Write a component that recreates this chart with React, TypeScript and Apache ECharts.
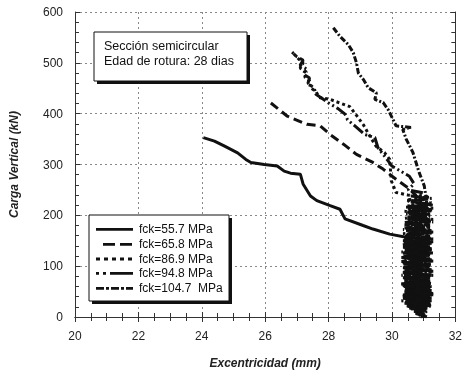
import React, { useEffect, useRef } from "react";
import * as echarts from "echarts";

const seriesNames = ["fck=55.7 MPa", "fck=65.8 MPa", "fck=86.9 MPa", "fck=94.8 MPa", "fck=104.7  MPa"];
const xTicks = { min: 20, max: 32, interval: 2 };
const yTicks = { min: 0, max: 600, interval: 100 };

const s557: number[][] = [
  [24.05, 353], [24.4, 346], [24.72, 336], [25.13, 323], [25.39, 310], [25.55, 304], [25.97, 300], [26.38, 297],
  [26.6, 287], [26.8, 283], [27.11, 281], [27.2, 261], [27.43, 238], [27.63, 229], [28.05, 219], [28.36, 212],
  [28.52, 193], [29.09, 180], [29.4, 173], [29.93, 163], [30.45, 157],
  [31.2, 152], [30.4, 147], [31.15, 142], [30.35, 137], [31.25, 132], [30.4, 127], [31.2, 122], [30.3, 117],
  [31.25, 112], [30.45, 107], [31.1, 102], [30.35, 97], [31.2, 92], [30.4, 87], [31.25, 82], [30.35, 77],
  [31.15, 72], [30.4, 67], [31.2, 62], [30.45, 57], [31.25, 52], [30.4, 47], [31.2, 42], [30.35, 37],
  [31.25, 32], [30.45, 27], [31.1, 22], [30.6, 17], [31.0, 12], [30.75, 7], [31.05, 2], [30.9, 0],
];

const s658: number[][] = [
  [26.18, 421], [26.7, 395], [27.32, 379], [27.74, 376], [28.05, 359], [28.47, 340], [28.88, 320], [29.4, 304],
  [29.72, 291], [30.13, 271], [30.55, 252], [30.86, 232],
  [30.6, 226], [31.2, 222], [30.5, 217], [31.25, 212], [30.45, 207], [31.15, 202], [30.5, 196], [31.25, 191],
  [30.4, 186], [31.2, 180], [30.45, 175], [31.25, 170], [30.5, 164], [31.2, 159], [30.4, 153], [31.3, 148],
  [30.45, 143], [31.2, 137], [30.35, 131], [31.25, 126], [30.4, 120], [31.15, 114], [30.3, 109], [31.2, 104],
  [30.4, 98], [31.25, 93], [30.35, 88], [31.2, 82], [30.45, 76], [31.2, 71], [30.3, 65], [31.25, 60],
  [30.4, 54], [31.15, 49], [30.35, 43], [31.2, 38], [30.45, 32], [31.25, 27], [30.5, 21], [31.1, 16],
  [30.7, 10], [31.0, 5],
];

const s869: number[][] = [
  [26.9, 518], [27.05, 508], [27.2, 500], [27.1, 490], [27.3, 482], [27.25, 472], [27.45, 462], [27.4, 452],
  [27.6, 444], [27.7, 432], [28.05, 428], [28.4, 420], [28.67, 414], [28.9, 395], [29.1, 378], [29.3, 356],
  [29.5, 336], [29.77, 323], [29.93, 310], [29.98, 268], [30.13, 245],
  [30.5, 240], [31.2, 236], [30.45, 230], [31.25, 225], [30.5, 219], [31.3, 214], [30.4, 208], [31.2, 203],
  [30.5, 197], [31.3, 192], [30.45, 186], [31.2, 181], [30.4, 175], [31.25, 170], [30.35, 164], [31.2, 159],
  [30.4, 153], [31.25, 148], [30.3, 142], [31.2, 137], [30.4, 131], [31.3, 126], [30.35, 120], [31.2, 115],
  [30.3, 109], [31.25, 104], [30.4, 98], [31.2, 93], [30.35, 87], [31.3, 82], [30.4, 76], [31.2, 71],
  [30.3, 65], [31.25, 60], [30.4, 54], [31.2, 49], [30.35, 43], [31.25, 38], [30.3, 32], [31.2, 27],
  [30.45, 22], [31.15, 17], [30.7, 11], [31.05, 6], [30.85, 1],
];

const s948: number[][] = [
  [26.85, 521], [27.0, 512], [27.2, 505], [27.1, 495], [27.3, 488], [27.2, 478], [27.4, 470], [27.35, 460],
  [27.55, 450], [27.6, 438], [27.8, 430], [28.0, 421], [28.3, 410], [28.52, 399], [28.6, 388], [28.83, 376],
  [29.14, 359], [29.46, 353], [29.56, 333], [29.72, 320], [29.88, 307], [30.0, 297], [30.55, 277], [30.7, 262],
  [30.5, 250],
  [31.0, 244], [30.6, 238], [31.25, 233], [30.5, 228], [31.2, 222], [30.45, 216], [31.3, 211], [30.5, 205],
  [31.2, 200], [30.4, 194], [31.25, 189], [30.45, 183], [31.2, 178], [30.35, 172], [31.3, 167], [30.45, 161],
  [31.2, 156], [30.35, 150], [31.25, 145], [30.4, 139], [31.3, 134], [30.3, 128], [31.2, 123], [30.4, 117],
  [31.25, 112], [30.35, 106], [31.2, 101], [30.45, 95], [31.3, 90], [30.35, 84], [31.2, 79], [30.4, 73],
  [31.25, 68], [30.3, 62], [31.2, 57], [30.4, 51], [31.3, 46], [30.3, 40], [31.2, 35], [30.4, 29],
  [31.25, 24], [30.5, 18], [31.1, 13], [30.8, 8], [31.0, 3],
];

const s1047: number[][] = [
  [28.15, 569], [28.36, 552], [28.62, 536], [28.78, 520], [28.88, 500], [28.94, 480], [29.1, 467], [29.25, 451],
  [29.51, 441], [29.46, 428], [29.72, 422], [29.88, 408], [30.03, 389], [30.13, 376], [30.6, 373], [30.34, 369],
  [30.45, 350], [30.66, 324], [30.76, 304], [30.86, 284], [31.02, 258], [31.07, 238], [30.76, 225],
  [31.3, 220], [30.5, 214], [31.25, 209], [30.45, 203], [31.2, 198], [30.5, 192], [31.3, 187], [30.4, 181],
  [31.2, 176], [30.45, 170], [31.25, 165], [30.4, 159], [31.3, 154], [30.35, 148], [31.2, 143], [30.45, 137],
  [31.25, 132], [30.35, 126], [31.2, 121], [30.4, 115], [31.3, 110], [30.35, 104], [31.2, 99], [30.4, 93],
  [31.25, 88], [30.3, 82], [31.2, 77], [30.4, 71], [31.25, 66], [30.35, 60], [31.2, 55], [30.45, 49],
  [31.3, 44], [30.35, 38], [31.2, 33], [30.4, 27], [31.25, 22], [30.6, 16], [31.1, 11], [30.9, 5], [31.1, 0],
];

const seriesData = [s557, s658, s869, s948, s1047];
const dashTypes: any[] = ["solid", [9, 5], [3, 3], [2, 3, 2, 3, 12, 3], [6, 2, 2, 2]];
const legendDash: any[] = [null, [12, 5], [4, 4], [3, 4, 3, 4, 22, 0], [8, 2, 3, 2]];

const FONT = "Liberation Sans";

export default function App() {
  const ref = useRef<HTMLDivElement>(null);
  useEffect(() => {
    if (!ref.current) return;
    const chart = echarts.init(ref.current, null, { renderer: "svg" });
    const axisLine = { show: true, lineStyle: { color: "#333", width: 1 } };
    const xCommon = {
      type: "value",
      min: xTicks.min,
      max: xTicks.max,
      interval: xTicks.interval,
      axisLine,
      axisTick: { show: true, inside: true, length: 5, lineStyle: { color: "#333" } },
      minorTick: { show: true, splitNumber: 4, length: 4, lineStyle: { color: "#333" } },
    };
    const yCommon = {
      type: "value",
      min: yTicks.min,
      max: yTicks.max,
      interval: yTicks.interval,
      axisLine,
      axisTick: { show: true, inside: true, length: 5, lineStyle: { color: "#333" } },
      minorTick: { show: true, splitNumber: 5, length: 4, lineStyle: { color: "#333" } },
    };
    const legendRows = [229.3, 244.3, 259, 273.3, 288.3];
    const legendGraphics: any[] = [];
    seriesNames.forEach((n, i) => {
      legendGraphics.push({
        type: "line",
        z: 12,
        shape: { x1: i === 1 ? 103 : 96, y1: legendRows[i], x2: 133, y2: legendRows[i] },
        style: { stroke: "#111", lineWidth: 2.8, lineDash: legendDash[i] || undefined },
      });
      legendGraphics.push({
        type: "text",
        z: 12,
        x: 139,
        y: legendRows[i],
        style: { text: n, fontSize: 12, fontFamily: FONT, fill: "#111", verticalAlign: "middle" },
      });
    });
    chart.setOption({
      animation: false,
      textStyle: { fontFamily: FONT },
      grid: { left: 75, top: 12, width: 385, height: 306, containLabel: false },
      xAxis: [
        {
          ...xCommon,
          position: "bottom",
          name: "Excentricidad (mm)",
          nameLocation: "middle",
          nameGap: 40,
          nameTextStyle: { fontSize: 12, fontWeight: "bold", fontStyle: "italic", color: "#222", fontFamily: FONT },
          axisLabel: { fontSize: 12, color: "#222", margin: 13, fontFamily: FONT },
          splitLine: { show: true, lineStyle: { type: [2, 3], color: "#888", width: 1 } },
        },
        {
          ...xCommon,
          position: "top",
          axisLabel: { show: false },
          splitLine: { show: false },
        },
      ],
      yAxis: [
        {
          ...yCommon,
          position: "left",
          name: "Carga Vertical (kN)",
          nameLocation: "middle",
          nameGap: 55,
          nameRotate: 90,
          nameTextStyle: { fontSize: 12, fontWeight: "bold", fontStyle: "italic", color: "#222", fontFamily: FONT },
          axisLabel: { fontSize: 12, color: "#222", margin: 12, fontFamily: FONT },
          splitLine: { show: true, lineStyle: { type: [2, 3], color: "#888", width: 1 } },
        },
        {
          ...yCommon,
          position: "right",
          axisLabel: { show: false },
          splitLine: { show: false },
        },
      ],
      graphic: [
        { type: "rect", z: 10, shape: { x: 97, y: 35, width: 153, height: 49 }, style: { fill: "#111" } },
        { type: "rect", z: 11, shape: { x: 94, y: 32, width: 153, height: 49 }, style: { fill: "#fff", stroke: "#111", lineWidth: 1 } },
        { type: "text", z: 12, x: 104, y: 46, style: { text: "Sección semicircular", fontSize: 12.5, fontFamily: FONT, fill: "#111", verticalAlign: "middle" } },
        { type: "text", z: 12, x: 104, y: 61, style: { text: "Edad de rotura: 28 dias", fontSize: 12.5, fontFamily: FONT, fill: "#111", verticalAlign: "middle" } },
        { type: "rect", z: 10, shape: { x: 92, y: 218, width: 140, height: 86 }, style: { fill: "#111" } },
        { type: "rect", z: 11, shape: { x: 89, y: 215, width: 140, height: 86 }, style: { fill: "#fff", stroke: "#111", lineWidth: 1 } },
        ...legendGraphics,
      ],
      series: seriesData.map((d, i) => ({
        name: seriesNames[i],
        type: "line",
        xAxisIndex: 0,
        yAxisIndex: 0,
        data: d,
        symbol: "none",
        showSymbol: false,
        lineStyle: { color: "#111", width: 3, type: dashTypes[i] },
        itemStyle: { color: "#111" },
        z: 2,
      })),
    });
    return () => chart.dispose();
  }, []);
  return <div ref={ref} style={{ position: "fixed", left: 0, top: 0, width: 465, height: 374 }} />;
}
